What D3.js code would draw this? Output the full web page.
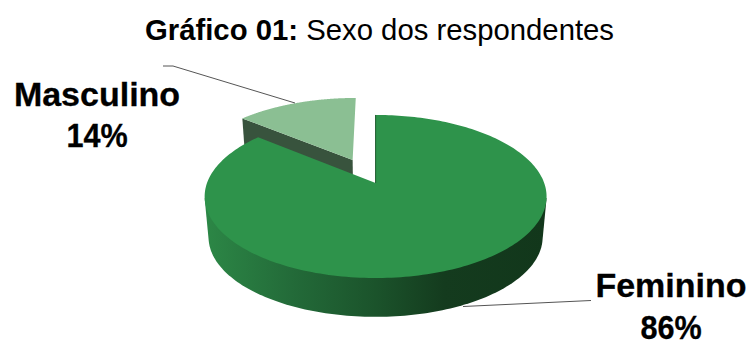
<!DOCTYPE html>
<html lang="pt">
<head>
<meta charset="utf-8">
<title>Sexo dos respondentes</title>
<script src="https://cdn.jsdelivr.net/npm/d3@7/dist/d3.min.js"></script>
<style>
  html, body { margin: 0; padding: 0; background: #fff; overflow: hidden; }
  svg { display: block; }
  text { font-family: "Liberation Sans", Arial, sans-serif; fill: #000; }
</style>
</head>
<body>
<svg id="chart" width="747" height="340"></svg>
<script>
const categories = ["Feminino", "Masculino"];
const shares = [86, 14];
const sliceColors = ["#2e934b", "#8bbf93"];
const cutFaceColors = ["#1d5a2e", "#38533d"];
const explodeBySlice = [0, 0.336];

const svg = d3.select("#chart");

// Perspective view of a tilted disc: v runs from the far rim (-1) to the near rim (+1).
const view = { cx: 375.6, cy: 183, rx: 168.6, ry: 79.3, persp: 0.1656, depth: 41, floorScale: 0.977 };

function project(u, v, floor) {
  const w = 1 - view.persp * v;
  const s = floor ? view.floorScale : 1;
  return [
    view.cx + view.rx * s * u / w,
    view.cy + (floor ? view.depth : 0) + view.ry * s * v / w
  ];
}

const pieAngles = d3.pie().sort(null).startAngle(0).endAngle(2 * Math.PI)(shares);

function rimAngles(slice) {
  return d3.range(0, 241).map(i =>
    slice.startAngle + (slice.endAngle - slice.startAngle) * i / 240);
}

function rimPoints(slice, index, floor) {
  const mid = (slice.startAngle + slice.endAngle) / 2;
  const ox = explodeBySlice[index] * Math.sin(mid);
  const oy = -explodeBySlice[index] * Math.cos(mid);
  return {
    apex: project(ox, oy, floor),
    arc: rimAngles(slice).map(a => project(Math.sin(a) + ox, -Math.cos(a) + oy, floor))
  };
}

const pathOf = d3.line();
const defs = svg.append("defs");

// Outer wall of the large slice darkens from left to right.
const wallGradient = defs.append("linearGradient")
  .attr("id", "wall")
  .attr("gradientUnits", "userSpaceOnUse")
  .attr("x1", 205).attr("x2", 547).attr("y1", 0).attr("y2", 0);
[[0, "#2c8746"], [0.25, "#236b39"], [0.5, "#1b532b"], [0.7, "#143b1e"], [1, "#12371b"]]
  .forEach(([o, c]) => wallGradient.append("stop").attr("offset", o).attr("stop-color", c));

// Title
const title = svg.append("text")
  .attr("x", 379.5).attr("y", 40)
  .attr("text-anchor", "middle")
  .attr("font-size", 29.3);
title.append("tspan").attr("font-weight", "bold").text("Gráfico 01:");
title.append("tspan").text(" Sexo dos respondentes");

// Small slice first so the large slice overlaps its cut face.
[1, 0].forEach(i => {
  const slice = pieAngles[i];
  const top = rimPoints(slice, i, false);
  const floor = rimPoints(slice, i, true);
  const g = svg.append("g").attr("class", "slice-" + categories[i]);

  if (i === 0) {
    // Outer wall: convex hull of the near half of both rims, from the widest point forward.
    const widest = view.cy + view.ry * view.persp / (1 - view.persp * view.persp);
    const nearRim = top.arc.concat(floor.arc).filter(p => p[1] >= widest);
    g.append("path")
      .attr("d", pathOf(d3.polygonHull(nearRim)) + "Z")
      .attr("fill", "url(#wall)");
  } else {
    // Flat cut face on the side turned towards the viewer.
    g.append("path")
      .attr("d", pathOf([top.arc[0], top.apex, floor.apex, floor.arc[0]]) + "Z")
      .attr("fill", cutFaceColors[i]);
  }

  g.append("path")
    .attr("d", pathOf([top.apex, ...top.arc]) + "Z")
    .attr("fill", sliceColors[i]);

  if (i === 0) {
    // Thin edge along the vertical side of the gap.
    g.append("path")
      .attr("d", pathOf([top.arc[0], top.apex]))
      .attr("fill", "none")
      .attr("stroke", cutFaceColors[i])
      .attr("stroke-width", 1);
  }
});

// Leader lines
const leaders = [
  [[163, 66], [173, 66], [295, 103]],
  [[591, 300.5], [463, 306.5]]
];
svg.selectAll("path.leader").data(leaders).join("path")
  .attr("class", "leader")
  .attr("d", d => pathOf(d))
  .attr("fill", "none")
  .attr("stroke", "#555")
  .attr("stroke-width", 1);

// Slice labels: name above, share below in slightly condensed figures
const labelSpots = [
  { x: 671, y1: 297, y2: 339 },
  { x: 97, y1: 106, y2: 147 }
];
labelSpots.forEach((spot, i) => {
  const label = svg.append("g")
    .attr("text-anchor", "middle")
    .attr("font-weight", "bold")
    .attr("font-size", 34)
    .attr("stroke", "#000")
    .attr("stroke-width", 0.3);
  label.append("text").attr("x", spot.x).attr("y", spot.y1).text(categories[i]);
  label.append("text")
    .attr("transform", `translate(${spot.x},${spot.y2}) scale(0.9,1)`)
    .text(shares[i] + "%");
});
</script>
</body>
</html>
